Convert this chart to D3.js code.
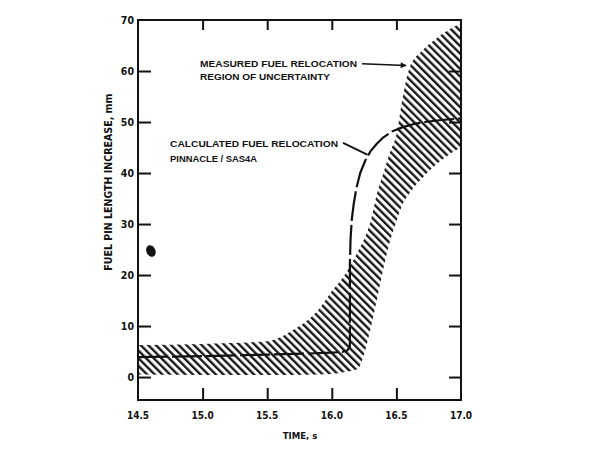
<!DOCTYPE html>
<html>
<head>
<meta charset="utf-8">
<script src="https://cdn.jsdelivr.net/npm/d3@7"></script>
<style>
  html, body { margin: 0; padding: 0; background: #fff; }
  svg { display: block; }
  text { font-family: 'Liberation Sans Narrow', 'DejaVu Sans Condensed', 'Liberation Sans', sans-serif; font-weight: bold; fill: #111; }
</style>
</head>
<body>
<script>
// ---- data ----
const xTicks = [14.5, 15.0, 15.5, 16.0, 16.5, 17.0];
const xTickLabels = ["14.5", "15.0", "15.5", "16.0", "16.5", "17.0"];
const yTicks = [0, 10, 20, 30, 40, 50, 60, 70];
const yTickLabels = ["0", "10", "20", "30", "40", "50", "60", "70"];

// measured fuel relocation region of uncertainty (band)
const bandTime  = [14.5, 15.0, 15.5, 15.7, 15.9, 16.0, 16.1, 16.2, 16.25, 16.3, 16.35, 16.4, 16.45, 16.5, 16.55, 16.6, 16.7, 16.8, 16.9, 17.0];
const bandUpper = [6.3, 6.5, 7.0, 9.2, 13.3, 16.8, 20.0, 24.5, 27.0, 30.5, 36.0, 40.0, 44.0, 47.5, 55.0, 60.5, 64.0, 66.2, 68.0, 69.3];
const bandLower = [0.5, 0.4, 0.4, 0.4, 0.5, 0.6, 1.0, 1.6, 4.5, 9.5, 15.3, 21.4, 26.6, 30.5, 34.0, 36.0, 39.0, 41.5, 43.5, 45.0];

// calculated fuel relocation, PINNACLE / SAS4A
const calcTime  = [14.5, 15.0, 15.5, 15.8, 16.0, 16.08, 16.12, 16.14, 16.14, 16.145, 16.155, 16.17, 16.19, 16.22, 16.26, 16.3, 16.35, 16.4, 16.47, 16.55, 16.65, 16.75, 16.85, 17.0];
const calcValue = [3.9, 4.1, 4.4, 4.6, 4.8, 4.9, 5.2, 6.0, 22.0, 27.0, 31.0, 34.0, 37.0, 40.0, 42.5, 44.3, 45.8, 47.0, 48.2, 49.0, 49.7, 50.1, 50.4, 50.7];

const xTitle = "TIME, s";
const yTitle = "FUEL PIN LENGTH INCREASE, mm";
const noteMeasured = ["MEASURED FUEL RELOCATION", "REGION OF UNCERTAINTY"];
const noteCalc = ["CALCULATED FUEL RELOCATION", "PINNACLE / SAS4A"];

// ---- layout ----
const W = 611, H = 454;
const m = { left: 138, right: 150, top: 20, bottom: 54 };

const svg = d3.select("body").append("svg").attr("width", W).attr("height", H);

const x = d3.scaleLinear().domain([14.5, 17.0]).range([m.left, W - m.right]);
const y = d3.scaleLinear().domain([-4.5, 70]).range([H - m.bottom, m.top]);

const defs = svg.append("defs");
defs.append("clipPath").attr("id", "plotClip")
  .append("rect").attr("x", x(14.5)).attr("y", y(70)).attr("width", x(17) - x(14.5)).attr("height", y(-4.5) - y(70));

const pat = defs.append("pattern").attr("id", "hatch")
  .attr("patternUnits", "userSpaceOnUse").attr("width", 5.4).attr("height", 5.4)
  .attr("patternTransform", "rotate(-45)");
pat.append("line").attr("x1", 1.2).attr("y1", 0).attr("x2", 1.2).attr("y2", 5.4)
  .attr("stroke", "#111").attr("stroke-width", 2.3);

const plot = svg.append("g").attr("clip-path", "url(#plotClip)");

// band
const upperPts = bandTime.map((t, i) => [t, bandUpper[i]]);
const lowerPts = bandTime.map((t, i) => [t, bandLower[i]]).reverse();
const lineMono = d3.line().x(d => x(d[0])).y(d => y(d[1])).curve(d3.curveMonotoneX);
const upperPath = lineMono(upperPts);
const lowerPath = lineMono(lowerPts);
plot.append("path")
  .attr("d", upperPath + "L" + lowerPath.slice(1) + "Z")
  .attr("fill", "url(#hatch)").attr("stroke", "none");

// calculated line
const calcPts = calcTime.map((t, i) => [t, calcValue[i]]);
plot.append("path")
  .attr("d", d3.line().x(d => x(d[0])).y(d => y(d[1]))(calcPts))
  .attr("fill", "none").attr("stroke", "#111").attr("stroke-width", 2.2)
  .attr("stroke-dasharray", "30,4").attr("stroke-linejoin", "round");

// frame
svg.append("rect").attr("x", x(14.5)).attr("y", y(70))
  .attr("width", x(17) - x(14.5)).attr("height", y(-4.5) - y(70))
  .attr("fill", "none").attr("stroke", "#111").attr("stroke-width", 2);

// axes (inward ticks)
const innerX = xTicks.filter(t => t > 14.5 && t < 17.0);
const axB = svg.append("g").attr("transform", `translate(0,${y(-4.5)})`)
  .call(d3.axisBottom(x).tickValues(innerX).tickSize(-12).tickFormat(""));
const axT = svg.append("g").attr("transform", `translate(0,${y(70)})`)
  .call(d3.axisTop(x).tickValues(innerX).tickSize(-10).tickFormat(""));
const innerY = yTicks.filter(t => t < 70);
const axL = svg.append("g").attr("transform", `translate(${x(14.5)},0)`)
  .call(d3.axisLeft(y).tickValues(innerY).tickSize(-13).tickFormat(""));
const axR = svg.append("g").attr("transform", `translate(${x(17)},0)`)
  .call(d3.axisRight(y).tickValues(innerY).tickSize(-12).tickFormat(""));
[axB, axT, axL, axR].forEach(a => {
  a.select(".domain").remove();
  a.selectAll(".tick line").attr("stroke", "#111").attr("stroke-width", 2);
});

// tick labels
svg.append("g").selectAll("text").data(xTicks).join("text")
  .attr("x", d => x(d)).attr("y", y(-4.5) + 19)
  .attr("text-anchor", "middle").attr("font-size", 10)
  .text((d, i) => xTickLabels[i]);
svg.append("g").selectAll("text").data(yTicks).join("text")
  .attr("x", x(14.5) - 4).attr("y", d => y(d) + 3.5)
  .attr("text-anchor", "end").attr("font-size", 10.5)
  .text((d, i) => yTickLabels[i]);

// axis titles
svg.append("text").attr("x", x(15.754)).attr("y", y(-4.5) + 39)
  .attr("text-anchor", "middle").attr("font-size", 9.5).text(xTitle);
svg.append("text")
  .attr("transform", `translate(${x(14.5) - 26},${y(38.2)}) rotate(-90)`)
  .attr("text-anchor", "middle").attr("font-size", 10.5)
  .attr("textLength", 177).attr("lengthAdjust", "spacingAndGlyphs")
  .text(yTitle);

// annotations
const noteFont = "'Liberation Sans', 'DejaVu Sans', sans-serif";
svg.append("text").attr("x", x(14.98)).attr("y", y(60.8)).attr("font-size", 9)
  .style("font-family", noteFont)
  .attr("textLength", 157).attr("lengthAdjust", "spacingAndGlyphs").text(noteMeasured[0]);
svg.append("text").attr("x", x(14.98)).attr("y", y(58.2)).attr("font-size", 9)
  .style("font-family", noteFont)
  .attr("textLength", 130).attr("lengthAdjust", "spacingAndGlyphs").text(noteMeasured[1]);
svg.append("text").attr("x", x(14.748)).attr("y", y(45.1)).attr("font-size", 9)
  .style("font-family", noteFont)
  .attr("textLength", 168).attr("lengthAdjust", "spacingAndGlyphs").text(noteCalc[0]);
svg.append("text").attr("x", x(14.748)).attr("y", y(42.2)).attr("font-size", 9)
  .style("font-family", noteFont)
  .attr("textLength", 87).attr("lengthAdjust", "spacingAndGlyphs").text(noteCalc[1]);

// arrow for measured note
defs.append("marker").attr("id", "arrowhead").attr("viewBox", "0 0 10 10")
  .attr("refX", 9).attr("refY", 5).attr("markerWidth", 5).attr("markerHeight", 4)
  .attr("orient", "auto").attr("markerUnits", "strokeWidth")
  .append("path").attr("d", "M0,0L10,5L0,10Z").attr("fill", "#111");
svg.append("line")
  .attr("x1", x(16.234)).attr("y1", y(61.4)).attr("x2", x(16.575)).attr("y2", y(61.1))
  .attr("stroke", "#111").attr("stroke-width", 1.5).attr("marker-end", "url(#arrowhead)");
// leader for calculated note
svg.append("line")
  .attr("x1", x(16.087)).attr("y1", y(45.9)).attr("x2", x(16.275)).attr("y2", y(43.6))
  .attr("stroke", "#111").attr("stroke-width", 1.8);

// ink blot present in the scanned original
svg.append("ellipse").attr("cx", x(14.6)).attr("cy", y(24.7)).attr("rx", 4.5).attr("ry", 6)
  .attr("transform", `rotate(-25,${x(14.6)},${y(24.7)})`).attr("fill", "#111");
</script>
</body>
</html>
